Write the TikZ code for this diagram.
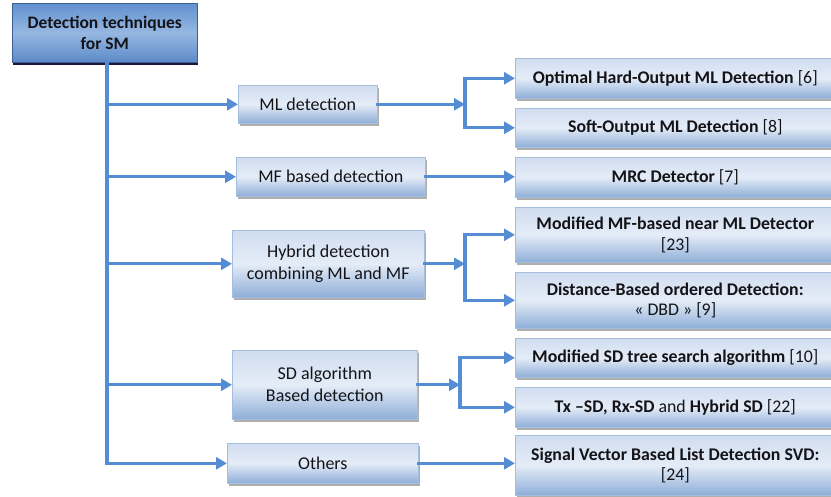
\documentclass[tikz,border=0pt]{standalone}
\usepackage{fontspec}
\setmainfont{Carlito}
\usetikzlibrary{shadows,arrows.meta}

\definecolor{linkblue}{RGB}{84,141,212}
\definecolor{boxedge}{RGB}{165,190,222}
\definecolor{boxtop}{RGB}{208,221,240}
\definecolor{boxmid}{RGB}{228,236,247}
\definecolor{boxbot}{RGB}{142,174,216}
\definecolor{roottop}{RGB}{98,145,206}
\definecolor{rootmid}{RGB}{150,183,226}
\definecolor{rootbot}{RGB}{92,138,200}
\definecolor{rootedge}{RGB}{60,96,150}
\definecolor{txt}{RGB}{20,20,24}

\tikzset{
  basebox/.style={anchor=north west, align=center, inner sep=0pt, text=txt,
    line width=0.6pt},
  rootbox/.style={basebox, draw=rootedge, top color=roottop, bottom color=rootbot,
    middle color=rootmid, font=\fontsize{17.5}{21.5}\selectfont\bfseries,
    drop shadow={fill=black!85!blue, opacity=0.9, shadow xshift=1pt, shadow yshift=-2.5pt}},
  lvlbox/.style={basebox, draw=boxedge, top color=boxtop, bottom color=boxbot,
    middle color=boxmid, font=\fontsize{18}{22}\selectfont,
    drop shadow={fill=black!45, opacity=0.7, shadow xshift=2pt, shadow yshift=-3pt}},
  leafbox/.style={lvlbox, minimum width=320pt, font=\fontsize{17.8}{20.5}\selectfont},
  ln/.style={draw=linkblue, line width=3.2pt, line cap=rect},
  arr/.style={ln, -{Triangle[length=11pt,width=12pt]}},
}

\begin{document}
\begin{tikzpicture}[x=1pt,y=-1pt]
\useasboundingbox (0,0) rectangle (831,497);

% root of the tree
\node[rootbox, minimum width=185pt, minimum height=59pt] (root) at (12,3)
  {Detection techniques\\for SM};

% first level: families of detectors
\node[lvlbox, minimum width=139pt, minimum height=38pt] (ml)  at (238,85)  {ML detection};
\node[lvlbox, minimum width=189pt, minimum height=39pt] (mf)  at (236,157) {MF based detection};
\node[lvlbox, minimum width=192pt, minimum height=67pt] (hyb) at (232,230) {Hybrid detection\\combining ML and MF};
\node[lvlbox, minimum width=185pt, minimum height=69pt] (sd)  at (232,350) {SD algorithm\\Based detection};
\node[lvlbox, minimum width=191pt, minimum height=40pt] (oth) at (227,443) {Others};

% second level: individual detectors
\node[leafbox, minimum height=40pt] (opt)  at (515,58)  {\bfseries Optimal Hard-Output ML Detection \mdseries[6]};
\node[leafbox, minimum height=39pt] (soft) at (515,108) {\bfseries Soft-Output ML Detection \mdseries[8]};
\node[leafbox, minimum height=40pt] (mrc)  at (515,157) {\bfseries MRC Detector \mdseries[7]};
\node[leafbox, minimum height=55pt] (mmf)  at (515,207) {\bfseries Modified MF-based near ML Detector\\\mdseries[23]};
\node[leafbox, minimum height=56pt] (dbd)  at (515,272) {\bfseries Distance-Based ordered Detection:\\\mdseries« DBD » [9]};
\node[leafbox, minimum height=39pt] (msd)  at (515,338) {\bfseries Modified SD tree search algorithm \mdseries[10]};
\node[leafbox, minimum height=40pt] (tx)   at (515,387) {\textbf{Tx –SD, Rx-SD} and \textbf{Hybrid SD} [22]};
\node[leafbox, minimum height=60pt] (svd)  at (515,435) {\bfseries Signal Vector Based List Detection SVD:\\\mdseries[24]};

% trunk from the root
\coordinate (trunktop) at (107,62);
\coordinate (trunkbot) at (107,463);
\draw[ln] (trunktop) -- (trunkbot);
\foreach \n in {ml,mf,hyb,sd,oth}
  \draw[arr] (trunktop |- \n.west) -- (\n.west);

% columns of the fork bars
\coordinate (barA) at (465,0);
\coordinate (barB) at (460,0);
\coordinate (forkml)  at (ml.east -| barA);
\coordinate (forkhyb) at (hyb.east -| barA);
\coordinate (forksd)  at (sd.east -| barB);

% ML detection branch
\draw[arr] (ml.east) -- (forkml);
\draw[ln] (forkml |- opt.west) -- (forkml |- soft.west);
\draw[arr] (forkml |- opt.west) -- (opt.west);
\draw[arr] (forkml |- soft.west) -- (soft.west);

% MF branch
\draw[arr] (mf.east) -- (mf.east -| mrc.west);

% hybrid branch
\draw[arr] (hyb.east) -- (forkhyb);
\draw[ln] (forkhyb |- mmf.west) -- (forkhyb |- dbd.west);
\draw[arr] (forkhyb |- mmf.west) -- (mmf.west);
\draw[arr] (forkhyb |- dbd.west) -- (dbd.west);

% SD branch
\draw[arr] (sd.east) -- (forksd);
\draw[ln] (forksd |- msd.west) -- (forksd |- tx.west);
\draw[arr] (forksd |- msd.west) -- (msd.west);
\draw[arr] (forksd |- tx.west) -- (tx.west);

% others
\draw[arr] (oth.east) -- (oth.east -| svd.west);
\end{tikzpicture}
\end{document}
